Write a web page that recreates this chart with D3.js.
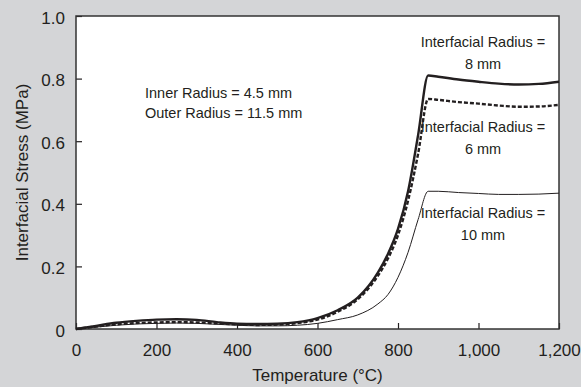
<!DOCTYPE html>
<html>
<head>
<meta charset="utf-8">
<script src="https://cdn.jsdelivr.net/npm/d3@7"></script>
<style>
	html, body { margin: 0; padding: 0; background: #d4d5d7; }
	svg { display: block; font-family: 'Liberation Sans', Arial, sans-serif; }
</style>
</head>
<body>
<div id="chart"></div>
<script>
// temperatures (°C) shared by all three series
const temps = [0, 50, 100, 150, 200, 250, 300, 350, 400, 450, 500, 550, 600, 650, 700, 750, 775, 800, 825, 850, 875, 900, 950, 1000, 1050, 1100, 1150, 1200]

// interfacial stress (MPa)
const r8 = [0, 0.01, 0.02, 0.026, 0.03, 0.031, 0.029, 0.022, 0.017, 0.016, 0.017, 0.022, 0.035, 0.06, 0.1, 0.18, 0.24, 0.32, 0.44, 0.62, 0.81, 0.806, 0.797, 0.79, 0.784, 0.781, 0.783, 0.79]
const r6 = [0, 0.008, 0.015, 0.019, 0.021, 0.022, 0.021, 0.018, 0.015, 0.013, 0.014, 0.019, 0.03, 0.055, 0.095, 0.17, 0.225, 0.3, 0.41, 0.56, 0.735, 0.732, 0.725, 0.72, 0.714, 0.71, 0.711, 0.716]
const r10 = [0, 0.006, 0.012, 0.016, 0.018, 0.019, 0.018, 0.015, 0.012, 0.01, 0.01, 0.012, 0.018, 0.03, 0.045, 0.08, 0.11, 0.165, 0.245, 0.35, 0.44, 0.44, 0.436, 0.433, 0.43, 0.43, 0.431, 0.434]

const xTicks = [0, 200, 400, 600, 800, 1000, 1200]
const yTicks = [0, 0.2, 0.4, 0.6, 0.8, 1.0]

const width = 581
const height = 387
const margin = { top: 16, right: 22, bottom: 58, left: 76 }
const w = width - margin.left - margin.right
const h = height - margin.top - margin.bottom
const ink = '#231f20'

const svg = d3.select('#chart').append('svg')
	.attr('width', width)
	.attr('height', height)

const g = svg.append('g')
	.attr('transform', `translate(${margin.left},${margin.top})`)

const x = d3.scaleLinear().domain([0, 1200]).range([0, w])
const y = d3.scaleLinear().domain([0, 1]).range([h, 0])

// plot area
g.append('rect')
	.attr('width', w)
	.attr('height', h)
	.attr('fill', '#fff')

// axes, ticks pointing inward
const xAxis = g.append('g')
	.attr('transform', `translate(0,${h})`)
	.call(d3.axisBottom(x).tickValues(xTicks).tickSize(-6).tickPadding(15).tickFormat(d3.format(',')))
const yAxis = g.append('g')
	.call(d3.axisLeft(y).tickValues(yTicks).tickSize(-6).tickPadding(11)
		.tickFormat(d => d === 0 ? '0' : d3.format('.1f')(d)))

;[xAxis, yAxis].forEach(a => {
	a.select('.domain').remove()
	a.selectAll('line').attr('stroke', ink).attr('stroke-width', 1.2)
	a.selectAll('text').attr('fill', ink).style('font-size', '17px')
})
yAxis.selectAll('text').attr('dy', '0.42em')

// frame
g.append('rect')
	.attr('width', w)
	.attr('height', h)
	.attr('fill', 'none')
	.attr('stroke', '#333')
	.attr('stroke-width', 1.5)

// curves
const line = d3.line()
	.x((d, i) => x(temps[i]))
	.y(d => y(d))
	.curve(d3.curveMonotoneX)

g.append('path').datum(r10)
	.attr('d', line).attr('fill', 'none')
	.attr('stroke', ink).attr('stroke-width', 1)
g.append('path').datum(r6)
	.attr('d', line).attr('fill', 'none')
	.attr('stroke', ink).attr('stroke-width', 2.4)
	.attr('stroke-dasharray', '4,2')
g.append('path').datum(r8)
	.attr('d', line).attr('fill', 'none')
	.attr('stroke', ink).attr('stroke-width', 2.4)

// annotations
const notes = [
	{ lines: ['Interfacial Radius =', '8 mm'], cx: 483, y0: 47 },
	{ lines: ['Interfacial Radius =', '6 mm'], cx: 483, y0: 132 },
	{ lines: ['Interfacial Radius =', '10 mm'], cx: 483, y0: 218 },
]
notes.forEach(n => {
	const t = svg.append('text')
		.attr('text-anchor', 'middle')
		.attr('fill', ink)
		.style('font-size', '14.5px')
	n.lines.forEach((s, i) => {
		t.append('tspan').attr('x', n.cx).attr('y', n.y0 + i * 22).text(s)
	})
})

const dims = svg.append('text')
	.attr('fill', ink)
	.style('font-size', '14.5px')
dims.append('tspan').attr('x', 145).attr('y', 98).text('Inner Radius = 4.5 mm')
dims.append('tspan').attr('x', 145).attr('y', 118).text('Outer Radius = 11.5 mm')

// axis titles
svg.append('text')
	.attr('x', margin.left + w / 2)
	.attr('y', 381)
	.attr('text-anchor', 'middle')
	.attr('fill', ink)
	.style('font-size', '17px')
	.text('Temperature (°C)')

svg.append('text')
	.attr('transform', `translate(28,${margin.top + h / 2}) rotate(-90)`)
	.attr('text-anchor', 'middle')
	.attr('fill', ink)
	.style('font-size', '17px')
	.text('Interfacial Stress (MPa)')
</script>
</body>
</html>
